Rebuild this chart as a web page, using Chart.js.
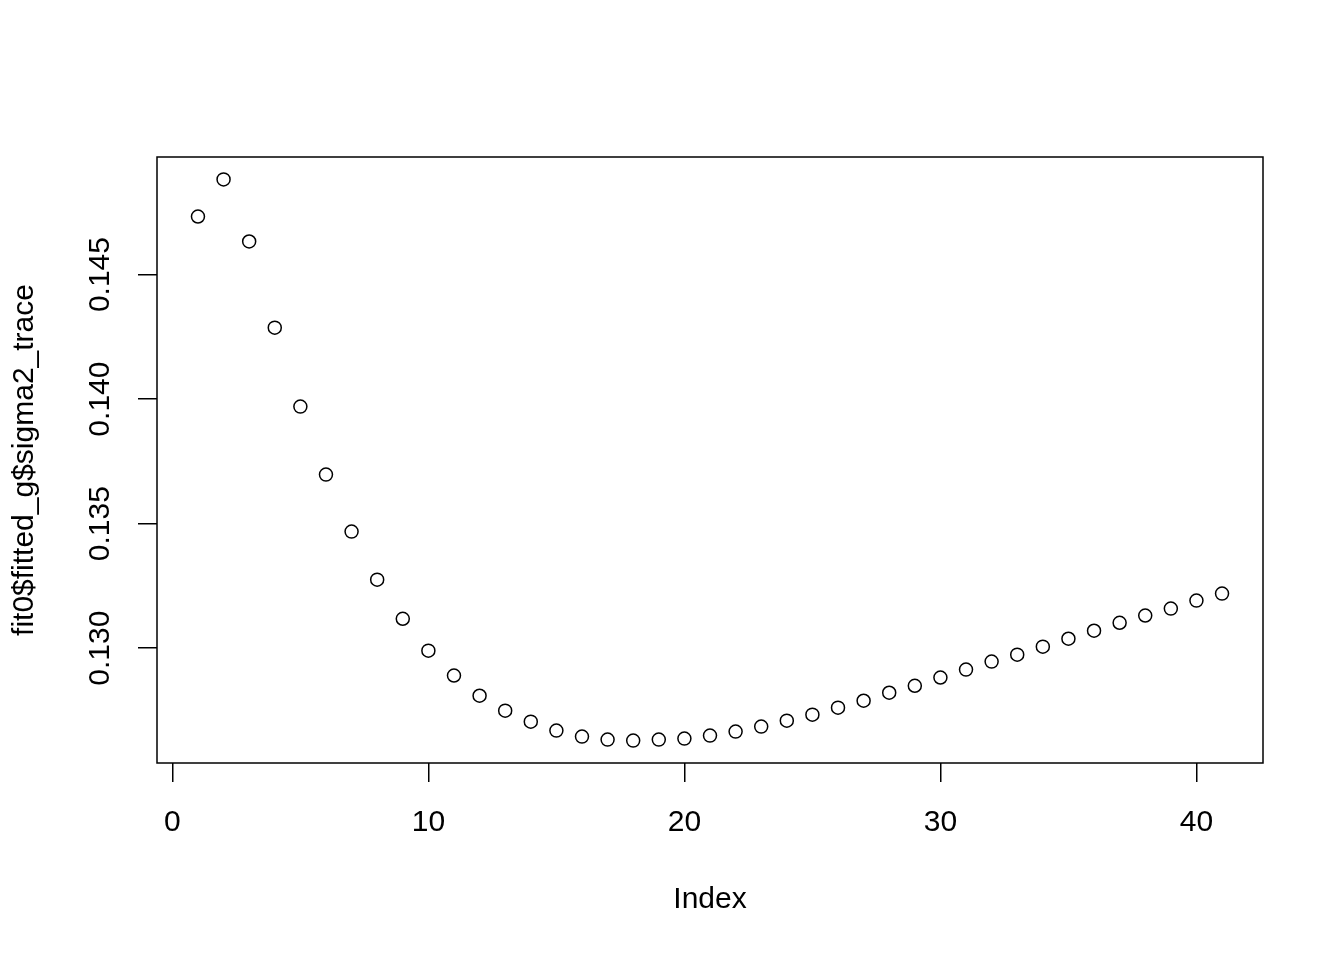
<!DOCTYPE html>
<html lang="en">
<head>
<meta charset="UTF-8">
<title>sigma2 trace</title>
<script src="https://cdn.jsdelivr.net/npm/chart.js@4.4.1/dist/chart.umd.min.js"></script>
<style>
  html, body { margin: 0; padding: 0; background: #fff; }
</style>
</head>
<body>
<canvas id="chart" width="1344" height="960"></canvas>
<script>
// values, index 1..41
const sigma2 = [
  0.14733, 0.14882, 0.14633, 0.14287, 0.13970, 0.13697, 0.13468, 0.13275, 0.13118, 0.12990,
  0.12890, 0.12809, 0.12749, 0.12705, 0.12669, 0.12645, 0.12633, 0.12629, 0.12633, 0.12637,
  0.12649, 0.12665, 0.12685, 0.12709, 0.12733, 0.12761, 0.12789, 0.12821, 0.12849, 0.12882,
  0.12914, 0.12946, 0.12974, 0.13006, 0.13038, 0.13070, 0.13102, 0.13131, 0.13159, 0.13191,
  0.13219
]
const xTicks = [0, 10, 20, 30, 40]
const yTicks = [0.130, 0.135, 0.140, 0.145]
const yTickLabels = ['0.130', '0.135', '0.140', '0.145']
const xTitle = 'Index'
const yTitle = 'fit0$fitted_g$sigma2_trace'

const points = sigma2.map((v, i) => ({ x: i + 1, y: v }))

const FONT = { family: 'Liberation Sans, Arial, Helvetica, sans-serif', size: 30 }

// R style: box around plot region + rotated y tick labels
const rPlot = {
  id: 'rPlot',
  afterDraw(chart) {
    const ctx = chart.ctx
    const a = chart.chartArea
    const ys = chart.scales.y
    ctx.save()
    ctx.strokeStyle = '#000'
    ctx.lineWidth = 1.5
    ctx.strokeRect(a.left, a.top, a.right - a.left, a.bottom - a.top)
    ctx.fillStyle = '#000'
    ctx.font = FONT.size + 'px ' + FONT.family
    ctx.textAlign = 'center'
    ctx.textBaseline = 'middle'
    yTicks.forEach((v, i) => {
      const py = ys.getPixelForValue(v)
      ctx.save()
      ctx.translate(101, py)
      ctx.rotate(-Math.PI / 2)
      ctx.fillText(yTickLabels[i], 0, 0)
      ctx.restore()
    })
    ctx.restore()
  }
}

const ctx = document.getElementById('chart').getContext('2d')
new Chart(ctx, {
  type: 'scatter',
  data: {
    datasets: [{
      data: points,
      pointRadius: 6.5,
      pointHoverRadius: 6.5,
      pointBorderWidth: 1.5,
      pointBorderColor: '#000',
      pointBackgroundColor: 'rgba(0,0,0,0)',
      showLine: false
    }]
  },
  options: {
    responsive: false,
    animation: false,
    layout: { padding: { top: 157, right: 81, left: 0, bottom: 0 } },
    plugins: { legend: { display: false }, tooltip: { enabled: false } },
    scales: {
      x: {
        type: 'linear',
        min: -0.6,
        max: 42.6,
        afterBuildTicks: s => { s.ticks = xTicks.map(v => ({ value: v })) },
        afterFit: s => { s.height = 197 },
        grid: { drawOnChartArea: false, drawTicks: true, tickLength: 19, color: '#000', lineWidth: 1.5 },
        border: { display: false },
        ticks: { color: '#000', font: FONT, padding: 23, maxRotation: 0, autoSkip: false },
        title: { display: true, text: xTitle, color: '#000', font: { ...FONT, lineHeight: 1 }, padding: { top: 0, bottom: 45 } }
      },
      y: {
        type: 'linear',
        min: 0.125389,
        max: 0.149721,
        afterBuildTicks: s => { s.ticks = yTicks.map(v => ({ value: v })) },
        afterFit: s => { s.width = 157 },
        grid: { drawOnChartArea: false, drawTicks: true, tickLength: 19, color: '#000', lineWidth: 1.5 },
        border: { display: false },
        ticks: { display: false },
        title: { display: true, text: yTitle, color: '#000', font: { ...FONT, lineHeight: 1 }, padding: { top: 10, bottom: 0 } }
      }
    }
  },
  plugins: [rPlot]
})
</script>
</body>
</html>
